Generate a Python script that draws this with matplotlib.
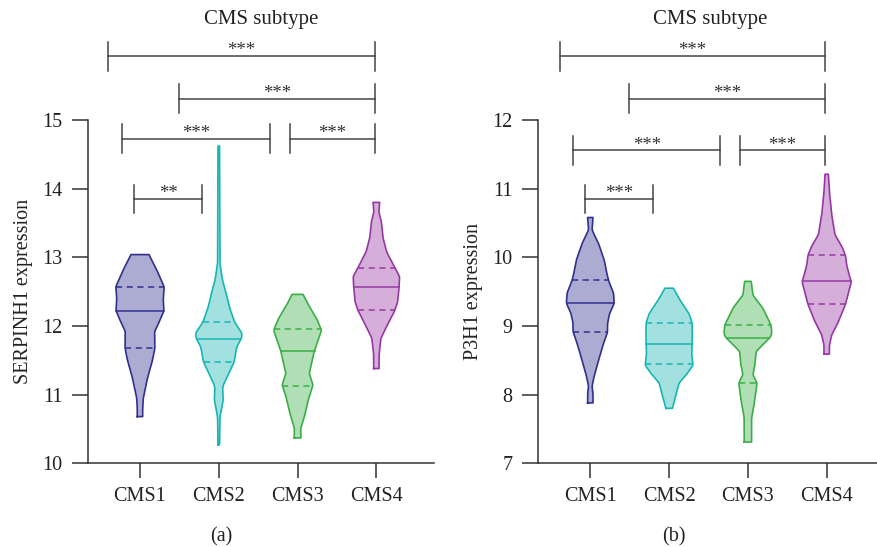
import numpy as np
import matplotlib
matplotlib.use("Agg")
import matplotlib.pyplot as plt

plt.rcParams['font.family'] = ['Liberation Serif', 'DejaVu Serif']

groups = ["CMS1", "CMS2", "CMS3", "CMS4"]

# violin outlines: level -> half width (pixels of the original)
a_cms1_y = [10.68, 10.80, 10.95, 11.24, 11.51, 11.68, 11.92, 12.06, 12.22, 12.40, 12.57, 12.82, 13.04]
a_cms1_w = [2.7, 2.7, 3.3, 7.5, 12.7, 15, 14.7, 19.3, 24, 23.3, 24.3, 16.7, 9]
a_cms2_y = [10.27, 10.68, 10.92, 11.12, 11.31, 11.48, 11.70, 11.81, 11.89, 12.05, 12.28, 12.48, 12.67, 12.91, 14.62]
a_cms2_w = [0.8, 1.2, 4.5, 3.8, 10, 15.5, 18, 22.5, 23.7, 16, 10.5, 7.3, 3.7, 1.2, 0.8]
a_cms3_y = [10.37, 10.51, 10.70, 10.95, 11.14, 11.31, 11.43, 11.63, 11.80, 11.94, 12.11, 12.31, 12.46]
a_cms3_w = [3.3, 3.2, 7.2, 11.2, 15.5, 11.7, 13.7, 16.7, 20.8, 24, 19, 10.8, 5.5]
a_cms4_y = [11.38, 11.58, 11.82, 12.01, 12.22, 12.35, 12.55, 12.72, 12.84, 13.08, 13.28, 13.52, 13.66, 13.80]
a_cms4_w = [2.7, 2.7, 4.5, 10.8, 18.3, 21.3, 22.7, 23.3, 18.8, 10.3, 6.7, 5, 2.5, 3.3]
a_q1 = [11.68, 11.48, 11.13, 12.23]
a_med = [12.22, 11.81, 11.64, 12.57]
a_q3 = [12.57, 12.06, 11.95, 12.85]

b_cms1_y = [7.88, 8.02, 8.12, 8.26, 8.50, 8.75, 8.91, 9.04, 9.18, 9.33, 9.48, 9.66, 9.79, 9.96, 10.20, 10.40, 10.58]
b_cms1_w = [2.7, 2.7, 1.7, 3.7, 8.3, 13.3, 17.3, 17.3, 19.3, 24, 23.3, 18.3, 16.2, 14, 8.3, 1.7, 2.7]
b_cms2_y = [7.80, 7.99, 8.17, 8.31, 8.43, 8.58, 8.74, 8.89, 9.05, 9.18, 9.38, 9.55]
b_cms2_w = [3.3, 6.7, 10, 18.3, 24, 22.7, 23, 23.3, 23, 20, 10.8, 4.2]
b_cms3_y = [7.31, 7.66, 7.90, 8.17, 8.29, 8.43, 8.63, 8.84, 8.89, 9.01, 9.26, 9.45, 9.65]
b_cms3_w = [3.7, 3.7, 6.7, 9.2, 5, 7, 8.3, 22.7, 24, 23.3, 15, 5, 3.3]
b_cms4_y = [8.59, 8.72, 8.87, 9.06, 9.31, 9.48, 9.64, 9.79, 9.89, 10.03, 10.15, 10.33, 10.62, 10.96, 11.21]
b_cms4_w = [2.7, 2.7, 5, 11.7, 18.7, 21.7, 24.7, 21.7, 20, 18.8, 15.5, 8.3, 5, 2.7, 1.7]
b_q1 = [8.91, 8.44, 8.17, 9.32]
b_med = [9.33, 8.74, 8.82, 9.66]
b_q3 = [9.67, 9.05, 9.02, 10.04]

# significance brackets: (start, end, height, stars)
a_sig = [(-0.41, 2.98, 15.93, "***"), (0.50, 2.98, 15.31, "***"),
         (-0.23, 1.65, 14.73, "***"), (1.90, 2.98, 14.73, "***"),
         (-0.08, 0.79, 13.85, "**")]
b_sig = [(-0.39, 2.98, 12.93, "***"), (0.49, 2.98, 12.31, "***"),
         (-0.22, 1.65, 11.56, "***"), (1.90, 2.98, 11.56, "***"),
         (-0.07, 0.80, 10.85, "***")]

edge_cols = ["#30308f", "#17b6b2", "#3aae47", "#9638a3"]
PX = 79.0  # pixels per category step


def panel(ax, shapes, q1, med, q3, sig, ylo, ylabel):
    for i, (ys, ws) in enumerate(shapes):
        ys = np.array(ys)
        ws = np.array(ws) / PX
        # smooth the outline a little for drawing
        yy = np.linspace(ys[0], ys[-1], 300)
        ww = np.interp(yy, ys, ws)
        k = np.ones(7) / 7
        ww = np.convolve(np.pad(ww, 3, mode='edge'), k, mode='valid')
        ww[0], ww[-1] = ws[0], ws[-1]
        ax.fill_betweenx(yy, i - ww, i + ww, facecolor=edge_cols[i], alpha=0.4, lw=0)
        ax.plot(np.r_[i - ww, (i + ww)[::-1], i - ww[0]],
                np.r_[yy, yy[::-1], yy[0]], color=edge_cols[i], lw=1.2)
        for val, ls in ((q1[i], (0, (4, 3))), (med[i], '-'), (q3[i], (0, (4, 3)))):
            w = np.interp(val, yy, ww)
            ax.plot([i - w, i + w], [val, val], color=edge_cols[i], lw=1.1, ls=ls)

    h = 0.21
    for x1, x2, y, lab in sig:
        ax.plot([x1, x2], [y, y], color='#444444', lw=1.1, clip_on=False)
        ax.plot([x1, x1], [y - h, y + h], color='#444444', lw=1.1, clip_on=False)
        ax.plot([x2, x2], [y - h, y + h], color='#444444', lw=1.1, clip_on=False)
        ax.annotate(lab, ((x1 + x2) / 2, y), xytext=(0, 0.5), textcoords='offset points',
                    ha='center', va='baseline', fontsize=13.5, color='#333333',
                    annotation_clip=False)

    ax.set_xlim(-0.66, 3.73)
    ax.set_ylim(ylo, ylo + 5)
    ax.set_xticks(range(4))
    ax.set_xticklabels(groups)
    ax.set_yticks(np.arange(ylo, ylo + 6))
    for s in ('top', 'right'):
        ax.spines[s].set_visible(False)
    for s in ('left', 'bottom'):
        ax.spines[s].set_color('#333333')
        ax.spines[s].set_linewidth(1.1)
    ax.tick_params(axis='y', direction='out', length=11.5, width=1.1, color='#333333',
                   pad=7, labelsize=14.5, labelcolor='#222222')
    ax.tick_params(axis='x', direction='out', length=10.8, width=1.1, color='#333333',
                   pad=6, labelsize=14.5, labelcolor='#222222')
    ax.set_ylabel(ylabel, fontsize=14.5, color='#222222')
    ax.yaxis.set_label_coords(-0.16, 0.5)


fig = plt.figure(figsize=(8.78, 5.47), dpi=100)
ax1 = fig.add_axes([0.1002, 0.153, 0.394, 0.6276])
ax2 = fig.add_axes([0.6131, 0.153, 0.394, 0.6276])

panel(ax1, [(a_cms1_y, a_cms1_w), (a_cms2_y, a_cms2_w), (a_cms3_y, a_cms3_w), (a_cms4_y, a_cms4_w)],
      a_q1, a_med, a_q3, a_sig, 10, "SERPINH1 expression")
panel(ax2, [(b_cms1_y, b_cms1_w), (b_cms2_y, b_cms2_w), (b_cms3_y, b_cms3_w), (b_cms4_y, b_cms4_w)],
      b_q1, b_med, b_q3, b_sig, 7, "P3H1 expression")

fig.text(0.297, 0.965, "CMS subtype", ha='center', va='center', fontsize=15, color='#222222')
fig.text(0.809, 0.965, "CMS subtype", ha='center', va='center', fontsize=15, color='#222222')
fig.text(0.252, 0.018, "(a)", ha='center', va='center', fontsize=14.5, color='#222222')
fig.text(0.767, 0.018, "(b)", ha='center', va='center', fontsize=14.5, color='#222222')

fig.savefig("out.png", dpi=100)
